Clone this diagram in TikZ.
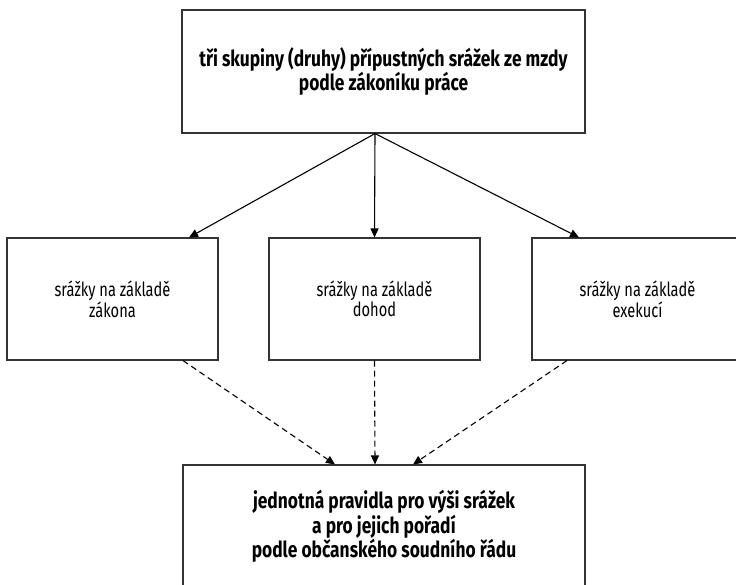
\documentclass[tikz,border=0pt]{standalone}
\usepackage{fontspec}
\setmainfont{Fira Sans}[FakeStretch=0.79]
\newfontfamily\kindfont{Fira Sans}[FakeStretch=0.75]
\usetikzlibrary{arrows.meta}
\tikzstyle{block} = [rectangle, draw=black!80, line width=1.1pt, align=center,
    inner sep=0pt]
\tikzstyle{head} = [block, minimum width=403pt, minimum height=123pt,
    font=\fontsize{22}{19.5}\selectfont\bfseries]
\tikzstyle{kind} = [block, minimum width=211pt, minimum height=122pt,
    font=\kindfont\fontsize{19.5}{19.5}\selectfont]

\begin{document}
\begin{tikzpicture}[
x=1pt, y=-1pt,
arr/.style = {draw, line width=1.1pt, -{Triangle[length=9pt,width=8pt]}},
darr/.style = {arr, dash pattern=on 6pt off 4pt}
                        ]
\useasboundingbox (0,0) rectangle (736,584);
\clip (0,0) rectangle (736,584);
% top
\node [head] (rules) at (383.5,71.5) {tři skupiny (druhy) přípustných srážek ze mzdy\\podle zákoníku práce};
\coordinate (fork) at ([xshift=-8.5pt]rules.south);
% middle level
\node [kind] (law) at (112.5,299) {srážky na základě\\zákona};
\node [kind] (deal) at (374.5,299) {srážky na základě\\dohod};
\node [kind] (exec) at (637.5,299) {srážky na základě\\exekucí};
% bottom
\node [head, minimum width=402pt] (civil) at (384,526.5)
    {jednotná pravidla pro výši srážek\\a pro jejich pořadí\\podle občanského soudního řádu};
% arrows
\draw [arr] (fork) -- ([xshift=76.5pt]law.north);
\draw [arr] (fork) -- (deal.north);
\draw [arr] (fork) -- ([xshift=-58.5pt]exec.north);
\draw [darr] ([xshift=70.5pt]law.south) -- ([xshift=-49pt]civil.north);
\draw [darr] (deal.south) -- ([xshift=-9pt]civil.north);
\draw [darr] ([xshift=-70.5pt]exec.south) -- ([xshift=29pt]civil.north);
\end{tikzpicture}
\end{document}
